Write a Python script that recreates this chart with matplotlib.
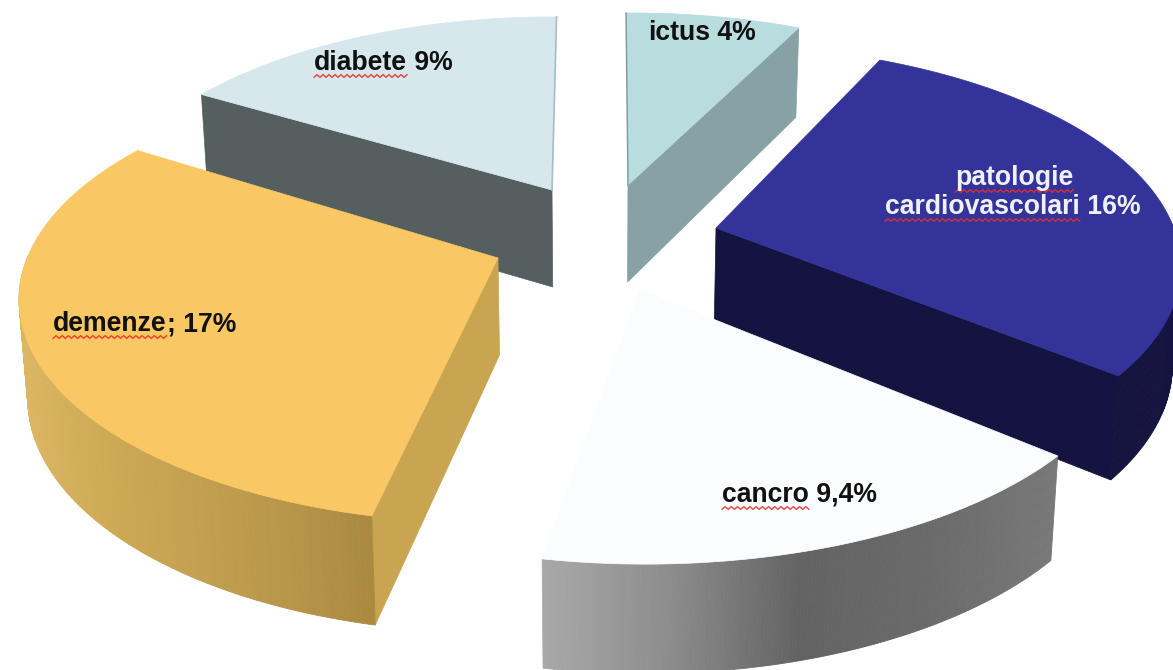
import numpy as np
import matplotlib
matplotlib.use('Agg')
import matplotlib.pyplot as plt
from matplotlib.colors import LinearSegmentedColormap

plt.rcParams['font.family'] = ['Liberation Sans', 'DejaVu Sans']

# data
names = ['ictus', 'patologie cardiovascolari', 'cancro', 'demenze', 'diabete']
values = [4, 16, 9.4, 17, 9]

# look of each slice
apex_x = [628, 716, 640, 498, 552]
apex_y = [185, 228, 290, 258, 190]
top_col = ['#b9dcdf', '#333399', '#fbfcfe', '#f9c764', '#d6e8ec']
face_col = ['#87a1a5', '#15133f', '#6a6a6a', '#c9a552', '#555f5f']
rim_cols = [['#87a1a5', '#87a1a5'], ['#15133f', '#15133f'],
            ['#a8a8a8', '#8c8c8c', '#636363', '#6a6a6a', '#787878'],
            ['#dcb662', '#cda955', '#c3a050', '#b8964a', '#a98a40'],
            ['#555f5f', '#555f5f']]
faces = [['end'], ['end'], [], ['start'], ['start']]
order = [4, 0, 1, 3, 2]

# small perspective corrections per slice: degrees at each edge, radius at each edge
nudge_a = [0.3, 1.7, -0.7, -1.7, 1.0]
nudge_b = [-0.7, 1.5, 1.5, -1.3, -0.7]
size_a = [0.96, 1.013, 1.03, 0.99, 0.964]
size_b = [0.964, 0.968, 1.018, 1.022, 0.966]

rx, ry, k = 465, 215, 0.2

fig = plt.figure(figsize=(11.73, 6.7), dpi=100)
ax = fig.add_axes([0, 0, 1, 1])
ax.set_xlim(0, 1173)
ax.set_ylim(670, 0)
ax.axis('off')


def top_point(i, t, r):
    s = r / (1 + k * np.sin(t))
    return apex_x[i] + rx * np.cos(t) * s, apex_y[i] - ry * np.sin(t) * s


def drop(x, y, t):
    # same point on the lower side of the slice
    s = 1 / (1 + k * np.sin(t))
    return 600 + (x - 600) * 0.985, y + 47 + 50 * s


# angles come from the values, clockwise from the top
edges = 90 - np.cumsum([0] + values) / sum(values) * 360

for i in order:
    t0 = np.radians(edges[i] + nudge_a[i])
    t1 = np.radians(edges[i + 1] + nudge_b[i])
    ts = np.linspace(t0, t1, 160)
    rs = np.linspace(size_a[i], size_b[i], 160)
    xs, ys = top_point(i, ts, rs)
    bx, by = drop(xs, ys, ts)

    # radial faces
    for which in faces[i]:
        j = 0 if which == 'start' else -1
        bx_, by_ = drop(apex_x[i], apex_y[i], 0)
        ax.fill([apex_x[i], xs[j], bx[j], bx_], [apex_y[i], ys[j], by[j], by_],
                color=face_col[i], lw=0.5)

    # outer rim, only the part turned to the viewer
    cmap = LinearSegmentedColormap.from_list('rim', rim_cols[i])
    front = np.sin(ts) < 0.02
    if front.any():
        lo, hi = xs[front].min(), xs[front].max()
        for j in range(len(ts) - 1):
            if front[j] and front[j + 1]:
                c = cmap((0.5 * (xs[j] + xs[j + 1]) - lo) / (hi - lo))
                ax.fill([xs[j], xs[j + 1], bx[j + 1], bx[j]],
                        [ys[j], ys[j + 1], by[j + 1], by[j]],
                        color=c, lw=0.6)

    # top
    ax.fill(np.r_[apex_x[i], xs], np.r_[apex_y[i], ys], color=top_col[i], lw=0.5)

    # thin edges next to the gap at the top
    if i == 0:
        ax.plot([apex_x[i], xs[0]], [apex_y[i], ys[0]], color='#7f989c', lw=1)
    if i == 4:
        ax.plot([apex_x[i], xs[-1]], [apex_y[i], ys[-1]], color='#a9bcc0', lw=1.2)

rend = fig.canvas.get_renderer()


def squiggle(x0, x1, y):
    n = int((x1 - x0) / 3)
    zx = np.linspace(x0, x1, n + 1)
    zy = y + 1.3 * (-1.0) ** np.arange(n + 1)
    ax.plot(zx, zy, color='#e8302a', lw=1, alpha=0.9, solid_joinstyle='miter')


def label(x, y, word, rest, col, wavy=True):
    t = ax.text(x, y, word, color=col, fontsize=19.2, fontweight='bold', va='baseline', ha='left')
    bb = t.get_window_extent(rend)
    if wavy:
        squiggle(bb.x0, bb.x1, y + 6)
    if rest:
        ax.text(bb.x1, y, rest, color=col, fontsize=19.2, fontweight='bold', va='baseline', ha='left')


label(648, 40, 'ictus', ' 4%', '#111111', wavy=False)
label(314, 70, 'diabete', ' 9%', '#111111')
label(955, 185, 'patologie', '', '#f0f0f8')
label(885, 214, 'cardiovascolari', ' 16%', '#f0f0f8')
label(53, 331, 'demenze', '; 17%', '#111111')
label(722, 502, 'cancro', ' 9,4%', '#111111')

fig.savefig('out.png', dpi=100, facecolor='white')
